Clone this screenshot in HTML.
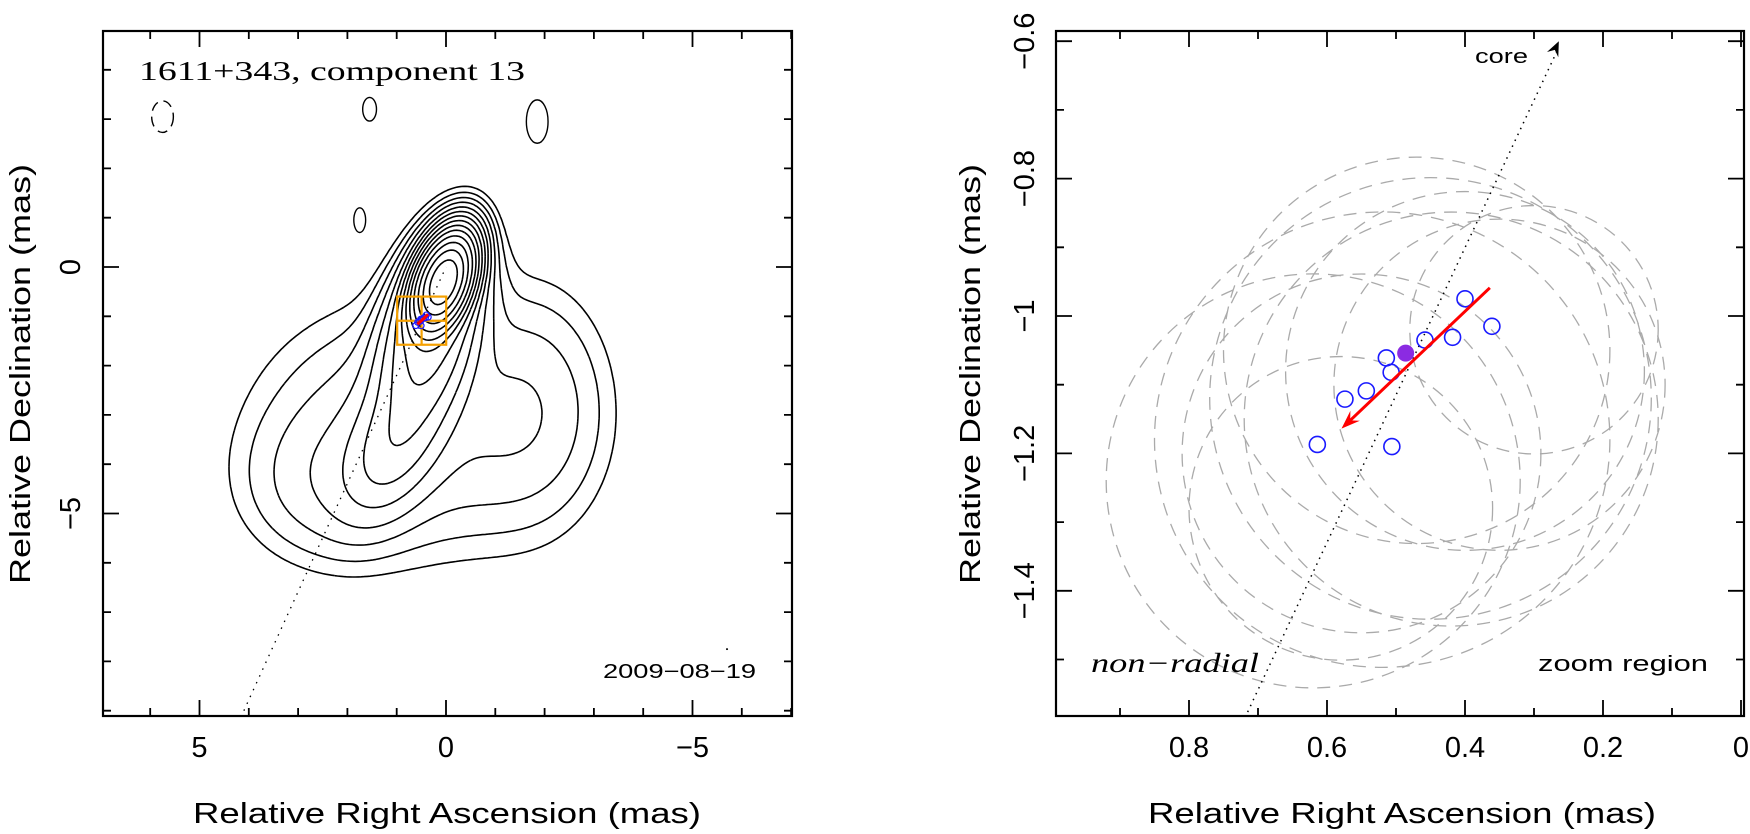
<!DOCTYPE html>
<html><head><meta charset="utf-8">
<style>
html,body{margin:0;padding:0;background:#fff;}
svg{display:block;font-family:"Liberation Sans",sans-serif;}
</style></head>
<body>
<svg id="fig" width="1750" height="834" viewBox="0 0 1750 834" xmlns="http://www.w3.org/2000/svg">
<rect x="0" y="0" width="1750" height="834" fill="#fff"/>
<g id="L"></g>
<g id="R"></g>
</svg>
<script>
// ---- data ----
const compRA  = [0.400, 0.361, 0.418, 0.458, 0.514, 0.507, 0.543, 0.574, 0.506, 0.614];
const compDec = [-0.975, -1.015, -1.031, -1.035, -1.061, -1.082, -1.109, -1.121, -1.190, -1.187];
const circRA  = [0.62, 0.52, 0.45, 0.40, 0.55, 0.35, 0.47, 0.30, 0.58, 0.42];
const circDec = [-1.24, -1.18, -1.12, -1.08, -1.20, -1.10, -1.05, -1.02, -1.28, -1.15];
const circR   = [0.30, 0.33, 0.32, 0.26, 0.26, 0.24, 0.28, 0.18, 0.22, 0.30];
const meanRA = [0.486];
const meanDec = [-1.054];
const arrowRA = [0.364, 0.579];
const arrowDec = [-0.959, -1.164];
const coreLineRA = [0.264, 0.719];
const coreLineDec = [-0.600, -1.585];
const leftXTicks = [5, 0, -5];
const leftYTicks = [0, -5];
const rightXTicks = [0.8, 0.6, 0.4, 0.2, 0];
const rightXTickLabels = ["0.8","0.6","0.4","0.2","0"];
const rightYTicks = [-0.6, -0.8, -1, -1.2, -1.4];
const rightYTickLabels = ["\u22120.6","\u22120.8","\u22121","\u22121.2","\u22121.4"];
const fieldAmp = [1.0, 0.05, 0.014, 0.006, 0.004, 0.003];
const fieldCX  = [0.05, 0.3, 1.05, 0.8, -1.8, 2.5];
const fieldCY  = [-0.3, -1.3, -3.6, -3.3, -2.8, -4.5];
const fieldSX  = [0.26, 0.5, 0.5, 1.9, 1.0, 1.1];
const fieldSY  = [0.5, 1.1, 0.9, 1.6, 1.6, 1.0];
const fieldRot = [20, 15, 25, 0, 0, 0];
const levels = [0.0015,0.0024,0.0038,0.006,0.0098,0.0157,0.025,0.04,0.064,0.1,0.16,0.26,0.42,0.67];

const NS="http://www.w3.org/2000/svg";
function mk(tag, attrs, parent){const e=document.createElementNS(NS,tag);for(const k in attrs)e.setAttribute(k,attrs[k]);parent.appendChild(e);return e;}

const LX = v => 446 - 49.3*v, LY = d => 267 - 49.3*d;
const RX = v => 1741 - 690*v, RY = d => 316 - 687*(d+1);
const L = document.getElementById('L'), R = document.getElementById('R');

// ---- left panel ----
const lf = {x0:103,x1:792,y0:31,y1:716};
function field(x,y){let s=0;for(let i=0;i<fieldAmp.length;i++){const a=fieldRot[i]*Math.PI/180,dx=x-fieldCX[i],dy=y-fieldCY[i];const u=dx*Math.cos(a)+dy*Math.sin(a),w=-dx*Math.sin(a)+dy*Math.cos(a);s+=fieldAmp[i]*Math.exp(-(u*u/(2*fieldSX[i]*fieldSX[i])+w*w/(2*fieldSY[i]*fieldSY[i])));}return s;}
const gx0=-5,gx1=5.5,gy0=-8,gy1=3,st=0.06;
const nx=Math.round((gx1-gx0)/st),ny=Math.round((gy1-gy0)/st);
const F=[];for(let j=0;j<=ny;j++){F[j]=[];for(let i=0;i<=nx;i++)F[j][i]=field(gx0+i*st,gy0+j*st);}
const cg=mk('g',{fill:'none',stroke:'#000','stroke-width':1.6},L);


levels.forEach((lv,k)=>{
  let d='';
  for(let j=0;j<ny;j++)for(let i=0;i<nx;i++){
    const v=[F[j][i],F[j][i+1],F[j+1][i+1],F[j+1][i]];
    const P=[[i,j],[i+1,j],[i+1,j+1],[i,j+1]];
    const pts=[];
    for(let e=0;e<4;e++){const a=v[e],b=v[(e+1)%4];if((a-lv)*(b-lv)<0){const t=(lv-a)/(b-a);const p=P[e],q=P[(e+1)%4];pts.push([gx0+(p[0]+t*(q[0]-p[0]))*st,gy0+(p[1]+t*(q[1]-p[1]))*st]);}}
    for(let m=0;m+1<pts.length;m+=2)d+=`M${LX(pts[m][0]).toFixed(1)},${LY(pts[m][1]).toFixed(1)}L${LX(pts[m+1][0]).toFixed(1)},${LY(pts[m+1][1]).toFixed(1)}`;
  }
  const p=mk('path',{d:d},cg);
  
  
});
const blobX=[5.75,1.55,-1.85,1.75], blobY=[3.05,3.2,2.95,0.95], blobRX=[0.22,0.14,0.22,0.12], blobRY=[0.32,0.24,0.44,0.25];
for(let i=0;i<blobX.length;i++){
  const e=mk('ellipse',{cx:LX(blobX[i]),cy:LY(blobY[i]),rx:blobRX[i]*49.3,ry:blobRY[i]*49.3,fill:'none',stroke:'#000','stroke-width':1.4,'stroke-dasharray':i==0?'10 6':'none'},L);
  
  
}
const dl=mk('line',{x1:LX(4.1),y1:LY(-9.0),x2:LX(0),y2:LY(0),stroke:'#000','stroke-width':1.3,'stroke-dasharray':'1.5 6'},L);


const bx=mk('g',{fill:'none',stroke:'#f5a000','stroke-width':2.2},L);


mk('rect',{x:LX(0.99),y:LY(-0.6),width:LX(-0.004)-LX(0.99),height:LY(-1.577)-LY(-0.6)},bx);
mk('line',{x1:LX(0.495),y1:LY(-0.6),x2:LX(0.495),y2:LY(-1.577)},bx);
mk('line',{x1:LX(0.99),y1:LY(-1.09),x2:LX(-0.004),y2:LY(-1.09)},bx);
for(let i=0;i<compRA.length;i++){
  const c=mk('circle',{cx:LX(compRA[i]),cy:LY(compDec[i]),r:3,fill:'none',stroke:'#1a1aff','stroke-width':1.2},L);
  
  
}
const sa=mk('line',{x1:LX(arrowRA[0]),y1:LY(arrowDec[0]),x2:LX(arrowRA[1]),y2:LY(arrowDec[1]),stroke:'#f00','stroke-width':3},L);


const dm=mk('circle',{cx:LX(-5.7),cy:LY(-7.75),r:1,fill:'#000'},L);



function frame(g,f,name){
  const r=mk('rect',{x:f.x0,y:f.y0,width:f.x1-f.x0,height:f.y1-f.y0,fill:'none',stroke:'#000','stroke-width':2.2},g);
  
  
}
function ticks(g,f,xs,ys,xScale,yScale,majX,majY){
  let d='';
  xs.forEach(v=>{const x=xScale(v);if(x<f.x0||x>f.x1)return;const len=majX(v)?16:8;d+=`M${x},${f.y1}v${-len}M${x},${f.y0}v${len}`;});
  ys.forEach(v=>{const y=yScale(v);if(y<f.y0||y>f.y1)return;const len=majY(v)?16:8;d+=`M${f.x0},${y}h${len}M${f.x1},${y}h${-len}`;});
  const p=mk('path',{d:d,stroke:'#000','stroke-width':1.8,fill:'none'},g);
  
  
}
frame(L,lf,'map-frame');
const lxs=[],lys=[];
for(let v=6;v>=-7;v--)lxs.push(v);
for(let v=5;v>=-9;v--)lys.push(v);
ticks(L,lf,lxs,lys,LX,LY,v=>v%5==0,v=>v%5==0);
leftXTicks.forEach(v=>{
  const t=mk('text',{x:LX(v),y:757,'font-size':29,'text-anchor':'middle'},L);
  t.textContent=v<0?'\u2212'+(-v):String(v);
  
  
});
leftYTicks.forEach(v=>{
  const y=LY(v);
  const t=mk('text',{x:0,y:0,'font-size':29,'text-anchor':'middle',transform:`translate(80,${y}) rotate(-90)`},L);
  t.textContent=v<0?'\u2212'+(-v):String(v);
  
  
});
let t;
t=mk('text',{x:447,y:823,'font-size':29,'text-anchor':'middle',textLength:508,lengthAdjust:'spacingAndGlyphs'},L);
t.textContent='Relative Right Ascension (mas)';


t=mk('text',{x:0,y:0,'font-size':29,'text-anchor':'middle',textLength:420,lengthAdjust:'spacingAndGlyphs',transform:'translate(30,374) rotate(-90)'},L);
t.textContent='Relative Declination (mas)';


t=mk('text',{x:139,y:80,'font-size':27,'font-family':'Liberation Serif, serif',textLength:386,lengthAdjust:'spacingAndGlyphs'},L);
t.textContent='1611+343, component 13';


t=mk('text',{x:603,y:678,'font-size':20,textLength:153,lengthAdjust:'spacingAndGlyphs'},L);
t.textContent='2009\u221208\u221219';



// ---- right panel ----
const rf={x0:1056,x1:1744,y0:31,y1:716};
const cp=mk('clipPath',{id:'rclip'},R);
mk('rect',{x:rf.x0,y:rf.y0,width:rf.x1-rf.x0,height:rf.y1-rf.y0},cp);
const rg=mk('g',{'clip-path':'url(#rclip)'},R);
for(let i=0;i<circRA.length;i++){
  const c=mk('circle',{cx:RX(circRA[i]),cy:RY(circDec[i]),r:circR[i]*690,fill:'none',stroke:'#aaa','stroke-width':1.3,'stroke-dasharray':'13 9'},rg);
  
  
}
const cl=mk('line',{x1:RX(coreLineRA[1]),y1:RY(coreLineDec[1]),x2:RX(coreLineRA[0]),y2:RY(coreLineDec[0])+6,stroke:'#000','stroke-width':1.5,'stroke-dasharray':'1.5 5'},rg);


{
  const x2=RX(coreLineRA[0]),y2=RY(coreLineDec[0]);
  const ang=Math.atan2(RY(coreLineDec[0])-RY(coreLineDec[1]),RX(coreLineRA[0])-RX(coreLineRA[1]));
  const L1=16,w=0.4;
  const h=mk('path',{d:`M${x2},${y2}L${x2-L1*Math.cos(ang-w)},${y2-L1*Math.sin(ang-w)}L${x2-L1*0.6*Math.cos(ang)},${y2-L1*0.6*Math.sin(ang)}L${x2-L1*Math.cos(ang+w)},${y2-L1*Math.sin(ang+w)}Z`,fill:'#000'},rg);
  
  
}
for(let i=0;i<compRA.length;i++){
  const c=mk('circle',{cx:RX(compRA[i]),cy:RY(compDec[i]),r:8,fill:'none',stroke:'#1a1aff','stroke-width':1.6},rg);
  
  
}
const mp=mk('circle',{cx:RX(meanRA[0]),cy:RY(meanDec[0]),r:8.5,fill:'#8b2be2'},rg);


{
  const x1=RX(arrowRA[0]),y1=RY(arrowDec[0]),x2=RX(arrowRA[1]),y2=RY(arrowDec[1]);
  const ang=Math.atan2(y2-y1,x2-x1);
  const a=mk('line',{x1:x1,y1:y1,x2:x2-10*Math.cos(ang),y2:y2-10*Math.sin(ang),stroke:'#f00','stroke-width':3},rg);
  
  
  const L1=20,w=0.35;
  const h=mk('path',{d:`M${x2},${y2}L${x2-L1*Math.cos(ang-w)},${y2-L1*Math.sin(ang-w)}L${x2-L1*0.6*Math.cos(ang)},${y2-L1*0.6*Math.sin(ang)}L${x2-L1*Math.cos(ang+w)},${y2-L1*Math.sin(ang+w)}Z`,fill:'#f00'},rg);
  
  
}
frame(R,rf,'zoom-frame');
const rxs=[],rys=[];
for(let k=0;k<=9;k++)rxs.push(k/10);
for(let k=6;k<=15;k++)rys.push(-k/10);
ticks(R,rf,rxs,rys,RX,RY,v=>Math.round(v*10)%2==0,v=>Math.round(-v*10)%2==0);
rightXTicks.forEach((v,i)=>{
  const t=mk('text',{x:RX(v),y:757,'font-size':29,'text-anchor':'middle'},R);
  t.textContent=rightXTickLabels[i];
  
  
});
rightYTicks.forEach((v,i)=>{
  const t=mk('text',{x:0,y:0,'font-size':29,'text-anchor':'middle',transform:`translate(1034,${RY(v)}) rotate(-90)`},R);
  t.textContent=rightYTickLabels[i];
  
  
});
t=mk('text',{x:1402,y:823,'font-size':29,'text-anchor':'middle',textLength:508,lengthAdjust:'spacingAndGlyphs'},R);
t.textContent='Relative Right Ascension (mas)';


t=mk('text',{x:0,y:0,'font-size':29,'text-anchor':'middle',textLength:420,lengthAdjust:'spacingAndGlyphs',transform:'translate(980,374) rotate(-90)'},R);
t.textContent='Relative Declination (mas)';


t=mk('text',{x:1091,y:672,'font-size':27,'font-style':'italic','font-family':'Liberation Serif, serif',textLength:168,lengthAdjust:'spacingAndGlyphs'},R);
t.textContent='non\u2212radial';


t=mk('text',{x:1538,y:671,'font-size':22,textLength:170,lengthAdjust:'spacingAndGlyphs'},R);
t.textContent='zoom region';


t=mk('text',{x:1475,y:63,'font-size':20,textLength:53,lengthAdjust:'spacingAndGlyphs'},R);
t.textContent='core';


</script>
</body></html>
